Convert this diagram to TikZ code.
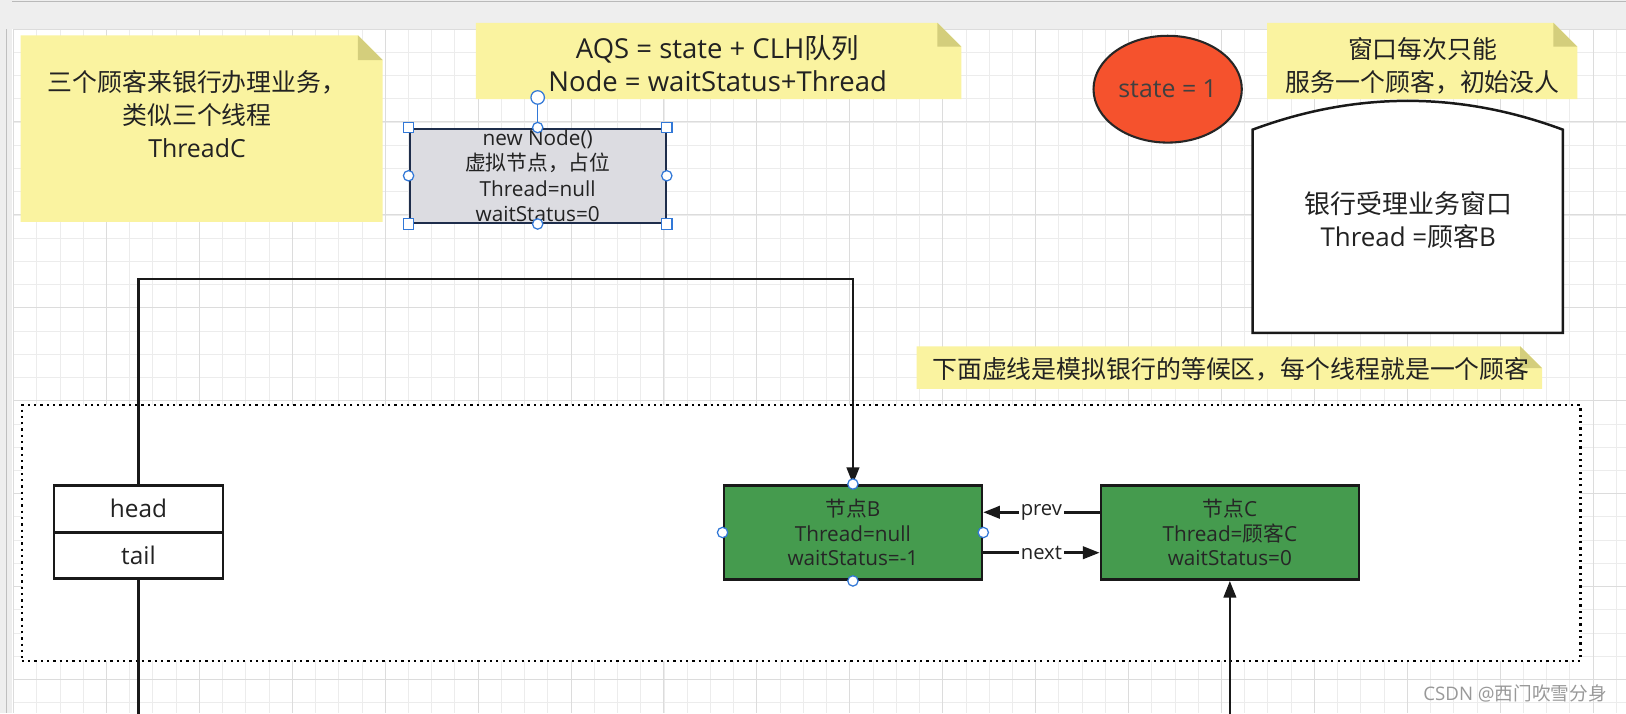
\documentclass[tikz,border=0pt]{standalone}
\usepackage{fontspec}
\setmainfont{Open Sans}
\newfontfamily\cjkf{Noto Sans CJK SC}
\newcommand\zhx[1]{{\cjkf #1}}
\usetikzlibrary{arrows.meta,shapes.geometric}
\definecolor{notefill}{RGB}{250,243,160}
\definecolor{notefold}{RGB}{212,206,124}
\definecolor{greenbox}{RGB}{69,155,78}
\definecolor{statered}{RGB}{245,82,45}
\definecolor{graybox}{RGB}{220,220,225}
\definecolor{navy}{RGB}{30,45,75}
\definecolor{handle}{RGB}{50,120,215}
\definecolor{txt}{RGB}{34,34,34}
\definecolor{gridminor}{RGB}{236,236,236}
\definecolor{gridmajor}{RGB}{220,220,220}
\definecolor{topbar}{RGB}{238,238,238}
\begin{document}
\begin{tikzpicture}[x=1pt,y=-1pt,
  every node/.style={text=txt, inner sep=0pt},
  notetext/.style={align=center, font=\fontsize{24}{32}\selectfont},
  qbox/.style={draw=black!90, line width=2.4pt, fill=greenbox, minimum width=249pt, minimum height=91pt, align=center, text=black!85, font=\fontsize{20}{24}\selectfont},
  ptrbox/.style={draw=black!90, line width=2.4pt, fill=white, minimum width=163pt, minimum height=45pt, font=\fontsize{23.5}{26}\selectfont},
  conn/.style={draw=black!90, line width=2.4pt, -{Triangle[length=16pt,width=12pt]}},
  plainline/.style={draw=black!90, line width=2.4pt},
  lbl/.style={fill=white, inner sep=2pt, font=\fontsize{19.5}{22}\selectfont},
  hcirc/.style={circle, draw=handle, fill=white, line width=1.2pt, minimum size=10pt},
  hsq/.style={rectangle, draw=handle, fill=white, line width=1.2pt, minimum size=10pt},
  notebg/.style={fill=notefill},
  foldbg/.style={fill=notefold}
]
\useasboundingbox (0,0) rectangle (1568,688);
\fill[white] (0,0) rectangle (1568,688);
% grid
\foreach \k in {0,...,69} {\draw[line width=0.7pt, gridminor] ({13+22.4*\k},28) -- ({13+22.4*\k},688);}
\foreach \k in {0,...,29} {\draw[line width=0.7pt, gridminor] (13,{28+22.4*\k}) -- (1568,{28+22.4*\k});}
\foreach \k in {0,...,17} {\draw[line width=0.9pt, gridmajor] ({13+89.6*\k},28) -- ({13+89.6*\k},688);}
\foreach \k in {0,...,7} {\draw[line width=0.9pt, gridmajor] (13,{28+89.6*\k}) -- (1568,{28+89.6*\k});}
% top bar and left strip
\fill[topbar] (0,0) rectangle (1568,28);
\draw[gray!55, line width=1.2pt] (0,1.5) -- (1568,1.5);
\fill[topbar] (0,0) rectangle (12,688);
\draw[gray!50, line width=1.2pt] (6,28) -- (6,688);

% waiting area
\node[draw=black, line width=2.2pt, dash pattern=on 2.2pt off 3.9pt, fill=white, minimum width=1503pt, minimum height=247pt] (wait) at (772.5,514) {};

% notes
\fill[notebg] (20,34) -- (345,34) -- (369,58) -- (369,214) -- (20,214) -- cycle;
\fill[foldbg] (345,34) -- (345,58) -- (369,58) -- cycle;
\node[notetext] (n1) at (190,110) {\zhx{三个顾客来银行办理业务，}\\\zhx{类似三个线程}\\ThreadC};

\fill[notebg] (459,22) -- (904,22) -- (927,45) -- (927,95.5) -- (459,95.5) -- cycle;
\fill[foldbg] (904,22) -- (904,45) -- (927,45) -- cycle;
\node[notetext, font=\fontsize{26.5}{32}\selectfont] (n2) at (692,61) {AQS = state + CLH\zhx{队列}\\Node = waitStatus+Thread};

\fill[notebg] (1222,22) -- (1498,22) -- (1521,45) -- (1521,95.5) -- (1222,95.5) -- cycle;
\fill[foldbg] (1498,22) -- (1498,45) -- (1521,45) -- cycle;
\node[notetext] (n3) at (1372,63.5) {\zhx{窗口每次只能}\\\zhx{服务一个顾客，初始没人}};

\fill[notebg] (884,334) -- (1466,334) -- (1487,355) -- (1487,375) -- (884,375) -- cycle;
\fill[foldbg] (1466,334) -- (1466,355) -- (1487,355) -- cycle;
\node[notetext] (n4) at (1187,356) {\zhx{下面虚线是模拟银行的等候区，每个线程就是一个顾客}};

% state ellipse
\node[ellipse, draw=black!85, line width=2pt, fill=statered, minimum width=143pt, minimum height=103pt, text=black!75, font=\fontsize{24}{26}\selectfont] (state) at (1126,86) {state = 1};

% bank window
\draw[black!90, line width=2.4pt, fill=white] (1208,321) -- (1208,125) .. controls (1307.7,88) and (1407.3,88) .. (1507,125) -- (1507,321) -- cycle;
\node[notetext, font=\fontsize{25}{32}\selectfont] (win) at (1358,212) {\zhx{银行受理业务窗口}\\Thread =\zhx{顾客}B};

% new Node (selected)
\node[draw=navy, line width=2pt, fill=graybox, minimum width=247pt, minimum height=91pt, align=center, font=\fontsize{20}{24.3}\selectfont] (dummy) at (518.5,169.5) {new Node()\\\zhx{虚拟节点，占位}\\Thread=null\\waitStatus=0};
\node[hcirc, minimum size=13pt] (rot) at (518.5,94) {};
\draw[handle, line width=1.5pt] (rot.south) -- (dummy.north);
\node[hsq] (s1) at (dummy.north west) {};
\node[hsq] (s2) at (dummy.north east) {};
\node[hsq] (s3) at (dummy.south west) {};
\node[hsq] (s4) at (dummy.south east) {};
\node[hcirc] (c1) at (dummy.north) {};
\node[hcirc] (c2) at (dummy.south) {};
\node[hcirc] (c3) at (dummy.west) {};
\node[hcirc] (c4) at (dummy.east) {};

% head / tail
\node[ptrbox] (head) at (133.5,490.5) {head};
\node[ptrbox, minimum height=44pt] (tail) at (133.5,536) {tail};

% queue nodes
\node[qbox] (g1) at (822.5,513.5) {\zhx{节点}B\\Thread=null\\waitStatus=-1};
\node[qbox] (g2) at (1186,513.5) {\zhx{节点}C\\Thread=\zhx{顾客}C\\waitStatus=0};

% connectors
\draw[conn] (head.north) -- ++(0,-198) -| (g1.north);
\coordinate (tailend) at (133.5,690);
\draw[plainline] (tail.south) -- (tailend);
\coordinate (cstart) at (1186,690);
\draw[conn] (cstart) -- (g2.south);
\draw[conn] ([yshift=19.5pt]g2.west) -- node[lbl] (prevl) {prev} ([yshift=19.5pt]g1.east);
\draw[conn] ([yshift=-19.5pt]g1.east) -- node[lbl] (nextl) {next} ([yshift=-19.5pt]g2.west);

% selection handles on g1
\node[hcirc] (d1) at (g1.north) {};
\node[hcirc] (d2) at (g1.south) {};
\node[hcirc] (d3) at (g1.west) {};
\node[hcirc] (d4) at (g1.east) {};

% watermark
\node[font=\fontsize{18}{20}\selectfont, text=gray!80] (wm) at (1461,669) {CSDN @\zhx{西门吹雪分身}};
\end{tikzpicture}
\end{document}
